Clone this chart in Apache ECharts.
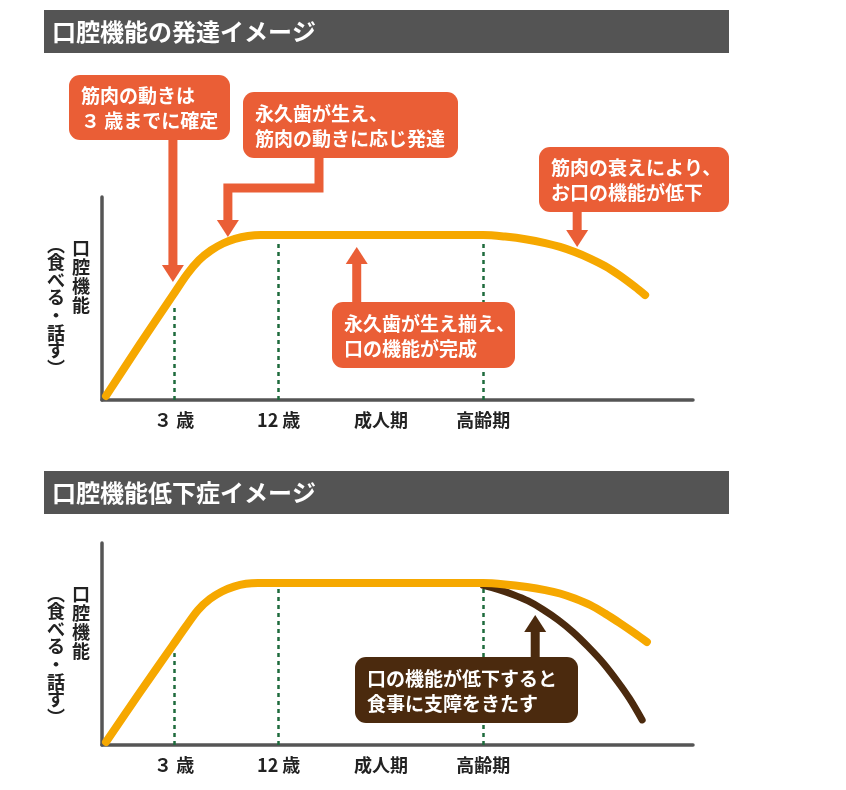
<!DOCTYPE html>
<html><head><meta charset="utf-8">
<script src="https://cdn.jsdelivr.net/npm/echarts@6/dist/echarts.min.js"></script>
<style>html,body{margin:0;padding:0;background:#fff}#c{width:846px;height:790px}</style>
</head><body><div id="c"></div>
<script>
// ---- data ----
const tickValues = [12.2, 29.9, 47.2, 64.5];
const tickLabels = ['３ 歳', '12 歳', '成人期', '高齢期'];
const dashX = [12.2, 29.9, 64.5];
const dashTops1 = [46.5, 78.5, 78];
const dashTops2 = [45.5, 78.5, 78.5];
const devCurve = [[0.68,2],[6.43,27.6],[12.01,51.7],[14.38,61.9],[16.41,68.9],[18.44,73.7],[20.47,77.1],[22.5,79.4],[24.7,80.8],[26.9,81.3],[31.8,81.3],[50.4,81.3],[64.5,81.3],[68.2,80.5],[71.9,79.1],[75.0,77.3],[77.5,75.4],[80.0,72.9],[82.6,69.7],[85.1,66.0],[87.6,61.3],[90.2,55.7],[91.9,51.7]];
const normalCurve = [[0.68,1.5],[6.43,26.1],[12.01,49.5],[14.21,58.7],[16.24,66.8],[18.27,72.3],[20.3,76.0],[22.34,78.4],[24.37,79.8],[26.4,80.2],[31.8,80.2],[50.4,80.2],[64.5,80.2],[68.2,79.5],[71.9,78.2],[75.0,76.7],[77.5,75.0],[80.0,72.5],[82.6,69.3],[85.1,65.1],[87.6,60.4],[90.2,55.2],[92.2,51.0]];
const disorderCurve = [[64.5,79.0],[67.0,77.0],[69.5,74.5],[72.1,71.3],[74.6,67.1],[77.2,61.9],[79.7,55.9],[82.2,48.8],[84.8,40.6],[87.3,31.2],[89.3,22.8],[91.4,12.4]];
const titles = ['口腔機能の発達イメージ', '口腔機能低下症イメージ'];
const yLabelMain = ['口','腔','機','能'];
const yLabelSub = ['︵','食','べ','る','・','話','す','︶'];
const calloutTexts1 = [
  ['筋肉の動きは', '３ 歳までに確定'],
  ['永久歯が生え、', '筋肉の動きに応じ発達'],
  ['筋肉の衰えにより、', 'お口の機能が低下'],
  ['永久歯が生え揃え、', '口の機能が完成']
];
const calloutTips1 = [[12.0, 58.1], [21.3, 80.3], [80.4, 75.4], [43.1, 75.4]];
const calloutTexts2 = [['口の機能が低下すると', '食事に支障をきたす']];
const calloutTips2 = [[73.3, 64.4]];

// ---- chart ----
const FONT = '"Noto Sans CJK JP", "Noto Sans", sans-serif';
const ORANGE = '#EA5E36', BROWN = '#4B2A0E', YELLOW = '#F6A800', GREEN = '#1E6B3C', AXIS = '#555';
const chart = echarts.init(document.getElementById('c'), null, {renderer: 'canvas'});

function labelFor(v) {
  let best = 0;
  tickValues.forEach((t, i) => { if (Math.abs(t - v) < Math.abs(tickValues[best] - v)) best = i; });
  return tickLabels[best];
}
function mkX(i) {
  return {
    gridIndex: i, type: 'value', min: 0, max: 100,
    axisLine: {show: true, lineStyle: {color: AXIS, width: 3.5}},
    axisTick: {show: false}, splitLine: {show: false},
    axisLabel: {customValues: tickValues, formatter: labelFor, margin: 11, fontSize: 18, fontWeight: 'bold', color: '#222', fontFamily: FONT}
  };
}
function mkY(i) {
  return {
    gridIndex: i, type: 'value', min: 0, max: 100,
    axisLine: {show: true, lineStyle: {color: AXIS, width: 3.5}},
    axisTick: {show: false}, splitLine: {show: false}, axisLabel: {show: false}
  };
}
function dashMark(tops) {
  return {
    silent: true, symbol: ['none', 'none'], label: {show: false},
    lineStyle: {type: [4, 4], color: GREEN, width: 2.5},
    emphasis: {disabled: true},
    data: dashX.map((x, i) => [{coord: [x, 0]}, {coord: [x, tops[i]]}])
  };
}
function lineSeries(idx, data, color, width, mark) {
  const s = {
    type: 'line', xAxisIndex: idx, yAxisIndex: idx, data: data, smooth: 0.3,
    showSymbol: false, symbol: 'none', silent: true,
    lineStyle: {color: color, width: width, cap: 'round', join: 'round'}
  };
  if (mark) s.markLine = mark;
  return s;
}

chart.setOption({
  animation: false,
  grid: [
    {left: 102, top: 197, width: 591, height: 203},
    {left: 102, top: 543, width: 591, height: 202}
  ],
  xAxis: [mkX(0), mkX(1)],
  yAxis: [mkY(0), mkY(1)],
  series: [
    lineSeries(0, devCurve, YELLOW, 8, dashMark(dashTops1)),
    lineSeries(1, disorderCurve, BROWN, 7, dashMark(dashTops2)),
    lineSeries(1, normalCurve, YELLOW, 8)
  ]
});

// ---- annotations ----
const HEAD_W = 22, HEAD_L = 17, SHAFT = 9;
function callout(box, tip, color, lines, route) {
  const els = [];
  let pts, head;
  const bx = box.x, by = box.y, bw = box.w, bh = box.h;
  if (route.type === 'down') {
    pts = [[tip[0], by + bh - 2], [tip[0], tip[1] - HEAD_L + 1]];
    head = [[tip[0] - HEAD_W / 2, tip[1] - HEAD_L], [tip[0] + HEAD_W / 2, tip[1] - HEAD_L], tip];
  } else if (route.type === 'up') {
    pts = [[tip[0], by + 2], [tip[0], tip[1] + HEAD_L - 1]];
    head = [[tip[0] - HEAD_W / 2, tip[1] + HEAD_L], [tip[0] + HEAD_W / 2, tip[1] + HEAD_L], tip];
  } else {
    pts = [[route.sx, by + bh - 2], [route.sx, route.ey], [tip[0], route.ey], [tip[0], tip[1] - HEAD_L + 1]];
    head = [[tip[0] - HEAD_W / 2, tip[1] - HEAD_L], [tip[0] + HEAD_W / 2, tip[1] - HEAD_L], tip];
  }
  els.push({type: 'polyline', shape: {points: pts}, style: {stroke: color, lineWidth: SHAFT, lineJoin: 'miter', lineCap: 'butt', fill: null}, z: 10});
  els.push({type: 'polygon', shape: {points: head}, style: {fill: color}, z: 10});
  els.push({type: 'rect', shape: {x: bx, y: by, width: bw, height: bh, r: 11}, style: {fill: color}, z: 11});
  els.push({type: 'text', x: bx + 12, y: by + bh / 2 + 1, style: {text: lines.join('\n'), fill: '#fff', font: 'bold 19px ' + FONT, lineHeight: 25, align: 'left', verticalAlign: 'middle'}, z: 12});
  return els;
}
function header(y, text) {
  return [
    {type: 'rect', shape: {x: 44, y: y, width: 685, height: 43}, style: {fill: '#545454'}, z: 5},
    {type: 'text', x: 52, y: y + 22, style: {text: text, fill: '#fff', font: 'bold 24px ' + FONT, verticalAlign: 'middle', align: 'left'}, z: 6}
  ];
}
function yLabel(top1, top2) {
  return [
    {type: 'text', x: 81, y: top1, style: {text: yLabelMain.join('\n'), fill: '#222', font: 'bold 18px ' + FONT, lineHeight: 19, align: 'center', verticalAlign: 'top'}},
    {type: 'text', x: 56, y: top2, style: {text: yLabelSub.join('\n'), fill: '#222', font: 'bold 18px ' + FONT, lineHeight: 17.6, align: 'center', verticalAlign: 'top'}}
  ];
}
const px = (g, p) => chart.convertToPixel({gridIndex: g}, p);
const boxes1 = [
  {x: 69, y: 75, w: 161, h: 65},
  {x: 243, y: 92, w: 215, h: 66},
  {x: 539, y: 147, w: 190, h: 65},
  {x: 332, y: 302, w: 183, h: 66}
];
const routes1 = [{type: 'down'}, {type: 'elbow', sx: 319, ey: 188}, {type: 'down'}, {type: 'up'}];
let g = [];
g = g.concat(header(10, titles[0]), header(471, titles[1]));
g = g.concat(yLabel(239, 236), yLabel(585, 585));
calloutTexts1.forEach((t, i) => { g = g.concat(callout(boxes1[i], px(0, calloutTips1[i]), ORANGE, t, routes1[i])); });
g = g.concat(callout({x: 355, y: 657, w: 223, h: 66}, px(1, calloutTips2[0]), BROWN, calloutTexts2[0], {type: 'up'}));
chart.setOption({graphic: {elements: g}});
</script>
</body></html>
